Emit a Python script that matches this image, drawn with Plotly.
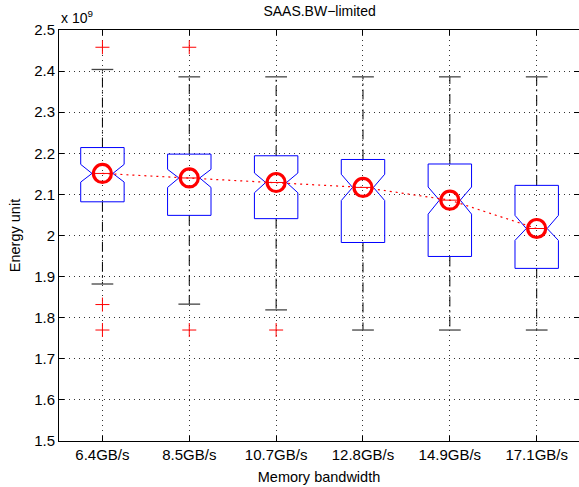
import plotly.graph_objects as go

# ---- data (units of 1e9 energy units) ----
labels = ["6.4GB/s", "8.5GB/s", "10.7GB/s", "12.8GB/s", "14.9GB/s", "17.1GB/s"]
q3 = [2.214, 2.198, 2.194, 2.185, 2.174, 2.122]
q1 = [2.082, 2.049, 2.041, 1.983, 1.949, 1.920]
medians = [2.151, 2.140, 2.129, 2.117, 2.086, 2.017]
notch_hi = [2.173, 2.161, 2.152, 2.149, 2.118, 2.049]
notch_lo = [2.130, 2.117, 2.104, 2.085, 2.052, 1.988]
whisk_hi = [2.404, 2.386, 2.386, 2.386, 2.386, 2.386]
whisk_lo = [1.882, 1.833, 1.819, 1.770, 1.770, 1.770]
outliers = [[2.458, 1.832, 1.770], [2.458, 1.770], [1.770], [], [], []]
centers = [2.151, 2.140, 2.129, 2.117, 2.086, 2.017]
y_ticks = [1.5, 1.6, 1.7, 1.8, 1.9, 2.0, 2.1, 2.2, 2.3, 2.4, 2.5]
y_tick_text = ["1.5", "1.6", "1.7", "1.8", "1.9", "2", "2.1", "2.2", "2.3", "2.4", "2.5"]

BOX_HW = 0.25     # half width of box
NOTCH_HW = 0.12   # half width at notch
CAP_HW = 0.125    # half width of whisker cap

fig = go.Figure()

wx, wy, cx, cy, bx, by, mx, my, ox, oy = [], [], [], [], [], [], [], [], [], []
for i in range(len(labels)):
    p = i + 1
    wx += [p, p, None, p, p, None]
    wy += [q3[i], whisk_hi[i], None, q1[i], whisk_lo[i], None]
    cx += [p - CAP_HW, p + CAP_HW, None, p - CAP_HW, p + CAP_HW, None]
    cy += [whisk_hi[i], whisk_hi[i], None, whisk_lo[i], whisk_lo[i], None]
    bx += [p - BOX_HW, p - BOX_HW, p - NOTCH_HW, p - BOX_HW, p - BOX_HW,
           p + BOX_HW, p + BOX_HW, p + NOTCH_HW, p + BOX_HW, p + BOX_HW,
           p - BOX_HW, None]
    by += [q1[i], notch_lo[i], medians[i], notch_hi[i], q3[i],
           q3[i], notch_hi[i], medians[i], notch_lo[i], q1[i], q1[i], None]
    mx += [p - NOTCH_HW, p + NOTCH_HW, None]
    my += [medians[i], medians[i], None]
    for v in outliers[i]:
        ox.append(p)
        oy.append(v)

fig.add_trace(go.Scatter(x=wx, y=wy, mode="lines",
                         line=dict(color="black", width=1, dash="10px,4px,2px,4px"),
                         hoverinfo="skip"))
fig.add_trace(go.Scatter(x=cx, y=cy, mode="lines",
                         line=dict(color="#444444", width=1.3), hoverinfo="skip"))
fig.add_trace(go.Scatter(x=bx, y=by, mode="lines",
                         line=dict(color="#0000ff", width=1), hoverinfo="skip"))
fig.add_trace(go.Scatter(x=mx, y=my, mode="lines",
                         line=dict(color="red", width=1), hoverinfo="skip"))
fig.add_trace(go.Scatter(x=ox, y=oy, mode="markers",
                         marker=dict(symbol="cross-thin-open", size=10, color="red",
                                     line=dict(color="red", width=1)),
                         hoverinfo="skip"))
xs = list(range(1, len(labels) + 1))
fig.add_trace(go.Scatter(x=xs, y=centers, mode="lines",
                         line=dict(color="red", width=1.2, dash="2px,4px"),
                         hoverinfo="skip"))
fig.add_trace(go.Scatter(x=xs, y=centers, mode="markers",
                         marker=dict(symbol="circle-open", size=18, color="red",
                                     line=dict(color="red", width=3.2)),
                         hoverinfo="skip"))

font = "Liberation Sans, Arial, Helvetica, sans-serif"
axis_common = dict(
    showline=True, linecolor="black", linewidth=1, mirror="ticks",
    ticks="inside", ticklen=5, tickcolor="black",
    showgrid=True, gridcolor="#333333", gridwidth=1, griddash="1px,4px",
    zeroline=False, tickfont=dict(family=font, size=15, color="black"),
)

fig.update_layout(
    width=579, height=487,
    margin=dict(l=59, r=0, t=30, b=46),
    paper_bgcolor="white", plot_bgcolor="white",
    showlegend=False,
    font=dict(family=font, color="black"),
    title=dict(text="SAAS.BW\u2212limited", x=0.552, xanchor="center",
               y=0.977, yanchor="middle", font=dict(size=14, family=font)),
    xaxis=dict(range=[0.5, 6.487], tickvals=xs, ticktext=labels,
               title=dict(text="Memory bandwidth", font=dict(size=14.5), standoff=9),
               **axis_common),
    yaxis=dict(range=[1.5, 2.5], tickvals=y_ticks, ticktext=y_tick_text,
               title=dict(text="Energy unit", font=dict(size=14.5), standoff=10),
               **axis_common),
    annotations=[dict(text="x 10<sup>9</sup>", xref="paper", yref="paper",
                      x=0, y=1, xanchor="left", yanchor="bottom", yshift=2,
                      showarrow=False, font=dict(size=14, family=font))],
)

fig.write_html("out.html")
